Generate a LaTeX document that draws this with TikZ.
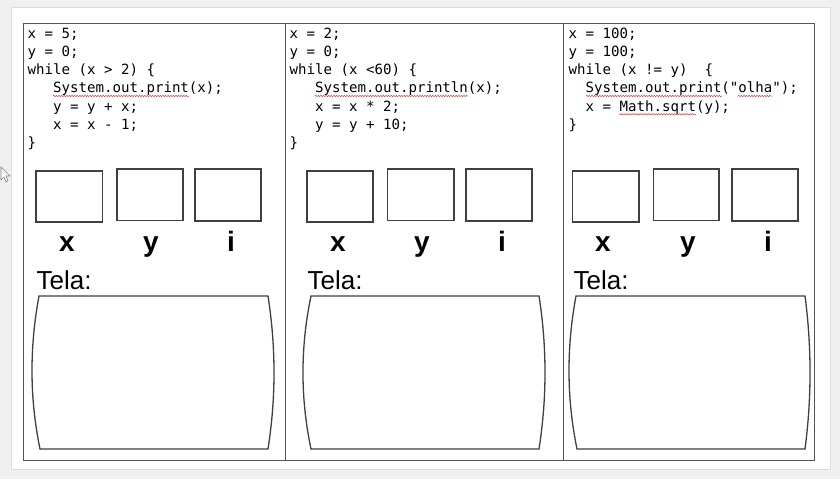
\documentclass[tikz,border=0pt]{standalone}
\usepackage{fontspec}
\setmainfont{Liberation Sans}
\setmonofont{DejaVu Sans Mono}
\usetikzlibrary{decorations.pathmorphing}
\definecolor{bggrey}{HTML}{F0F0F0}
\definecolor{pageedge}{HTML}{DCDCDC}
\definecolor{tableline}{HTML}{555555}
\definecolor{boxline}{HTML}{404040}
\definecolor{squiggle}{HTML}{E04040}
\tikzset{
  codeline/.style={anchor=base west, inner sep=0pt, font=\fontsize{14.1}{16}\ttfamily},
  varlabel/.style={anchor=base, inner sep=0pt, font=\fontsize{28}{30}\selectfont\bfseries},
  telalabel/.style={anchor=base west, inner sep=0pt, font=\fontsize{26}{28}\selectfont},
  varbox/.style={draw=boxline, line width=1.3pt},
  screen/.style={draw=boxline, line width=1.3pt},
  spell/.style={draw=squiggle, line width=0.5pt, decorate,
    decoration={snake, amplitude=0.7pt, segment length=2.6pt}},
  grid/.style={draw=tableline, line width=1pt}
}
\begin{document}
\begin{tikzpicture}[x=1pt,y=-1pt]
\useasboundingbox (0,0) rectangle (840,479);
% background and page
\fill[bggrey] (0,0) rectangle (840,479);
\filldraw[fill=white, draw=pageedge, line width=0.8pt] (11,7) rectangle (830,469);
% mouse cursor
\filldraw[fill=white, draw=gray, line width=0.6pt]
  (1,167) -- (1,180) -- (4,177) -- (6,182) -- (8,181) -- (6,176) -- (10,176) -- cycle;
% table
\draw[grid] (23,23) rectangle (814,460);
\draw[grid] (285,23) -- (285,460);
\draw[grid] (563.5,23) -- (563.5,460);

% ---- column 1 code
\node[codeline] (a1) at (27.5,38.0)  {x = 5;};
\node[codeline] (a2) at (27.5,56.3)  {y = 0;};
\node[codeline] (a3) at (27.5,74.6)  {while (x > 2) \{};
\node[codeline] (a4) at (27.5,92.9)  {\ \ \ System.out.print(x);};
\node[codeline] (a5) at (27.5,111.2) {\ \ \ y = y + x;};
\node[codeline] (a6) at (27.5,129.5) {\ \ \ x = x - 1;};
\node[codeline] (a7) at (27.5,147.8) {\}};
\draw[spell] (53,96) -- (189,96);

% ---- column 2 code
\node[codeline] (b1) at (289.5,38.0)  {x = 2;};
\node[codeline] (b2) at (289.5,56.3)  {y = 0;};
\node[codeline] (b3) at (289.5,74.6)  {while (x <60) \{};
\node[codeline] (b4) at (289.5,92.9)  {\ \ \ System.out.println(x);};
\node[codeline] (b5) at (289.5,111.2) {\ \ \ x = x * 2;};
\node[codeline] (b6) at (289.5,129.5) {\ \ \ y = y + 10;};
\node[codeline] (b7) at (289.5,147.8) {\}};
\draw[spell] (315,96) -- (468,96);

% ---- column 3 code
\node[codeline] (c1) at (568.5,38.0)  {x = 100;};
\node[codeline] (c2) at (568.5,56.3)  {y = 100;};
\node[codeline] (c3) at (568.5,74.6)  {while (x != y) \ \{};
\node[codeline] (c4) at (568.5,92.9)  {\ \ System.out.print("olha");};
\node[codeline] (c5) at (568.5,111.2) {\ \ x = Math.sqrt(y);};
\node[codeline] (c6) at (568.5,129.5) {\}};
\draw[spell] (586,96) -- (722,96);
\draw[spell] (738,96) -- (772,96);
\draw[spell] (619,114.3) -- (696,114.3);

% ---- variable boxes
\draw[varbox] (36,171) rectangle (102.5,222);
\draw[varbox] (117,169) rectangle (183,220.5);
\draw[varbox] (195,169) rectangle (261,221);
\draw[varbox] (307,171) rectangle (373,222);
\draw[varbox] (387.5,169) rectangle (454,220.5);
\draw[varbox] (466,169) rectangle (532,221);
\draw[varbox] (572.5,171) rectangle (639,222);
\draw[varbox] (653.5,169) rectangle (719,220.5);
\draw[varbox] (732,169) rectangle (798,221);

% ---- variable labels
\node[varlabel] (ax) at (67,251) {x};
\node[varlabel] (ay) at (151,251) {y};
\node[varlabel] (ai) at (231,251) {i};
\node[varlabel] (bx) at (338,251) {x};
\node[varlabel] (by) at (422,251) {y};
\node[varlabel] (bi) at (502,251) {i};
\node[varlabel] (cx) at (603,251) {x};
\node[varlabel] (cy) at (688,251) {y};
\node[varlabel] (ci) at (768,251) {i};

% ---- Tela labels
\node[telalabel] (at) at (36.5,289) {Tela:};
\node[telalabel] (bt) at (307.5,289) {Tela:};
\node[telalabel] (ct) at (573.5,289) {Tela:};

% ---- screens
\draw[screen] (39,296) -- (268,296)
  .. controls (276,347) and (276,398) .. (268,449) -- (40,449)
  .. controls (29.5,398) and (29.5,347) .. cycle;
\draw[screen] (311,296) -- (539,296)
  .. controls (547,347) and (547,398) .. (539,449) -- (311,449)
  .. controls (300.3,398) and (300.3,347) .. cycle;
\draw[screen] (576,296) -- (805,296)
  .. controls (811.7,347) and (811.7,398) .. (805,449) -- (577,449)
  .. controls (566.5,398) and (566.5,347) .. cycle;
\end{tikzpicture}
\end{document}
